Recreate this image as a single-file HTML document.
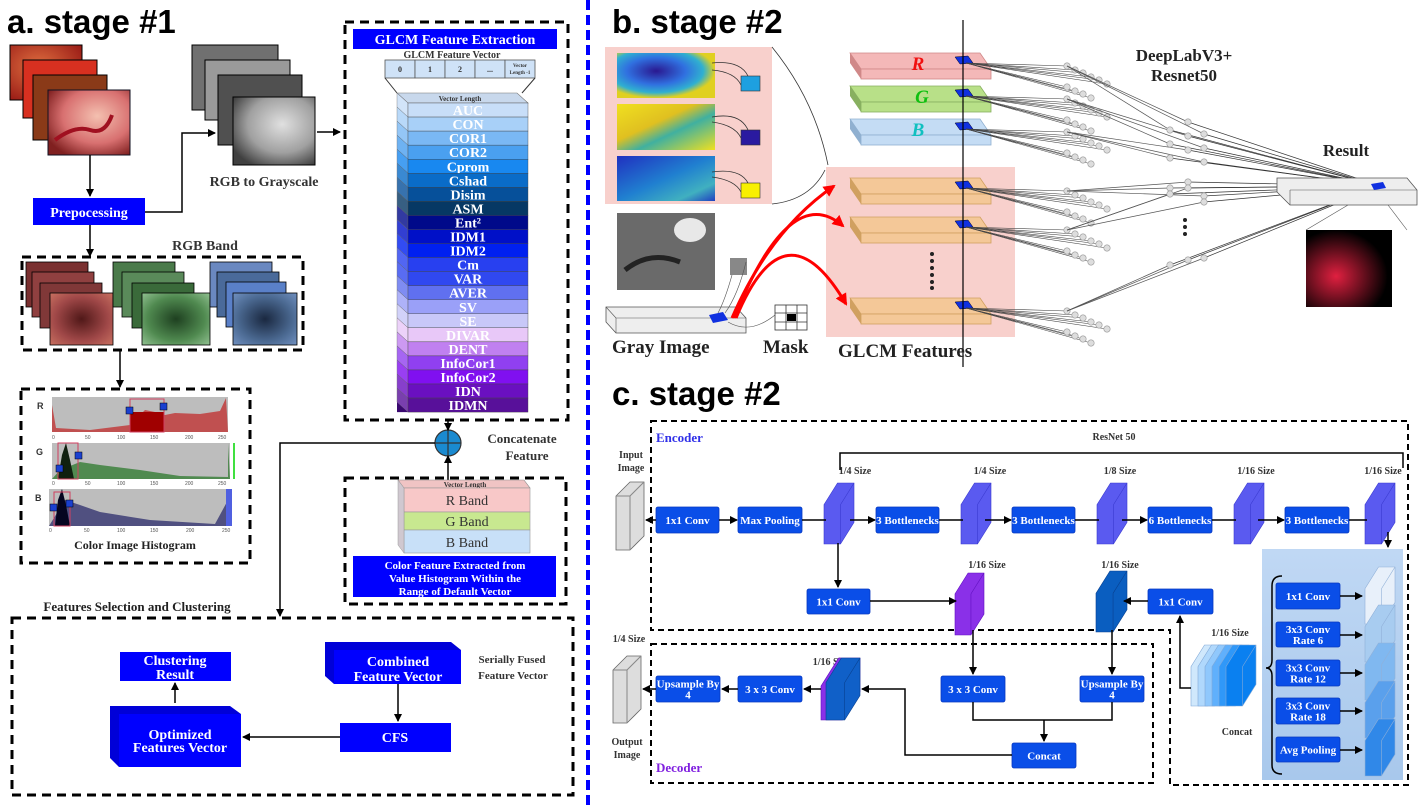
<!DOCTYPE html>
<html><head><meta charset="utf-8">
<style>
html,body{margin:0;padding:0;background:#fff;}
svg{display:block;}
.s{font-family:"Liberation Serif",serif;font-weight:bold;}
.t{font-family:"Liberation Sans",sans-serif;font-weight:bold;}
</style></head>
<body>
<svg id="sv" width="1421" height="806" viewBox="0 0 1421 806" xmlns="http://www.w3.org/2000/svg">
<defs>
<marker id="ar" markerWidth="8" markerHeight="8" refX="7" refY="4" orient="auto" markerUnits="userSpaceOnUse"><path d="M0,0 L8,4 L0,8 Z" fill="#000"/></marker>
<marker id="arr" markerWidth="12" markerHeight="12" refX="10" refY="6" orient="auto" markerUnits="userSpaceOnUse"><path d="M0,0 L12,6 L0,12 Z" fill="#f00"/></marker>
<radialGradient id="endo" cx="0.6" cy="0.4" r="0.7"><stop offset="0" stop-color="#f4c0b0"/><stop offset="0.6" stop-color="#d87070"/><stop offset="1" stop-color="#802020"/></radialGradient>
<radialGradient id="endo2" cx="0.4" cy="0.4" r="0.8"><stop offset="0" stop-color="#e07040"/><stop offset="1" stop-color="#901010"/></radialGradient>
<radialGradient id="gray" cx="0.6" cy="0.4" r="0.7"><stop offset="0" stop-color="#e0e0e0"/><stop offset="0.6" stop-color="#a0a0a0"/><stop offset="1" stop-color="#404040"/></radialGradient>
<radialGradient id="redb" cx="0.5" cy="0.5" r="0.7"><stop offset="0" stop-color="#501818"/><stop offset="0.6" stop-color="#a04848"/><stop offset="1" stop-color="#c87060"/></radialGradient>
<radialGradient id="greenb" cx="0.5" cy="0.5" r="0.7"><stop offset="0" stop-color="#1e4020"/><stop offset="0.6" stop-color="#508a50"/><stop offset="1" stop-color="#90c090"/></radialGradient>
<radialGradient id="blueb" cx="0.5" cy="0.5" r="0.7"><stop offset="0" stop-color="#1a2840"/><stop offset="0.6" stop-color="#4a6890"/><stop offset="1" stop-color="#7090c0"/></radialGradient>
<radialGradient id="cm1" cx="0.4" cy="0.4" r="0.6"><stop offset="0" stop-color="#2a1890"/><stop offset="0.5" stop-color="#3070e0"/><stop offset="0.8" stop-color="#30b0d0"/><stop offset="1" stop-color="#e0d020"/></radialGradient>
<linearGradient id="cm2" x1="0" y1="0" x2="1" y2="1"><stop offset="0" stop-color="#f0e020"/><stop offset="0.4" stop-color="#e0c020"/><stop offset="0.6" stop-color="#40b0a0"/><stop offset="1" stop-color="#f0e020"/></linearGradient>
<linearGradient id="cm3" x1="0" y1="0" x2="1" y2="1"><stop offset="0" stop-color="#2030c0"/><stop offset="0.5" stop-color="#2080d0"/><stop offset="0.8" stop-color="#40b0c0"/><stop offset="1" stop-color="#2040c0"/></linearGradient>
<radialGradient id="res" cx="0.35" cy="0.6" r="0.6"><stop offset="0" stop-color="#e02040"/><stop offset="0.5" stop-color="#701020"/><stop offset="1" stop-color="#000"/></radialGradient>
<linearGradient id="bluepanel" x1="0" y1="0" x2="0" y2="1"><stop offset="0" stop-color="#c0d8f4"/><stop offset="1" stop-color="#a8c8ec"/></linearGradient>
</defs>

<!-- ============ STAGE A ============ -->
<text x="7" y="33" class="t" font-size="33">a. stage #1</text>

<rect x="10" y="45" width="72" height="55" fill="url(#endo2)" stroke="#000" stroke-width="1"/>
<rect x="23" y="60" width="74" height="58" fill="#d83020" stroke="#000" stroke-width="1"/>
<rect x="33" y="75" width="74" height="65" fill="#8a3a18" stroke="#000" stroke-width="1"/>
<rect x="48" y="90" width="82" height="65" fill="url(#endo)" stroke="#112" stroke-width="1"/>
<path d="M55,140 Q75,125 90,130 T112,115" stroke="#a01020" stroke-width="4" fill="none"/>
<line x1="90" y1="155" x2="90" y2="196" stroke="#000" stroke-width="1.5" marker-end="url(#ar)"/>
<rect x="33" y="198" width="112" height="27" fill="#0000ff"/>
<text x="89" y="217" class="s" font-size="14" fill="#fff" text-anchor="middle">Prepocessing</text>
<polyline points="145,212 182,212 182,133 215,133" fill="none" stroke="#000" stroke-width="1.5" marker-end="url(#ar)"/>
<rect x="192" y="45" width="86" height="65" fill="#707070" stroke="#000"/>
<rect x="205" y="60" width="85" height="60" fill="#9a9a9a" stroke="#000"/>
<rect x="218" y="75" width="84" height="70" fill="#505050" stroke="#000"/>
<rect x="233" y="97" width="82" height="68" fill="url(#gray)" stroke="#000"/>
<line x1="317" y1="132" x2="340" y2="132" stroke="#000" stroke-width="1.5" marker-end="url(#ar)"/>
<text x="264" y="186" class="s" font-size="14" fill="#333" text-anchor="middle">RGB to Grayscale</text>

<line x1="90" y1="225" x2="90" y2="256" stroke="#000" stroke-width="1.5" marker-end="url(#ar)"/>
<text x="205" y="250" class="s" font-size="14" fill="#333" text-anchor="middle">RGB Band</text>
<rect x="22" y="257" width="281" height="93" fill="none" stroke="#000" stroke-width="3" stroke-dasharray="9,6"/>
<g stroke="#000" stroke-width="0.8">
<rect x="26" y="262" width="62" height="45" fill="#7a3030"/><rect x="32" y="272" width="62" height="45" fill="#904040"/><rect x="40" y="283" width="62" height="45" fill="#803838"/><rect x="50" y="293" width="63" height="52" fill="url(#redb)"/>
<rect x="113" y="262" width="62" height="45" fill="#4a7a4a"/><rect x="122" y="272" width="62" height="45" fill="#5a8a5a"/><rect x="132" y="283" width="62" height="45" fill="#3a6a3a"/><rect x="142" y="293" width="68" height="52" fill="url(#greenb)"/>
<rect x="210" y="262" width="62" height="45" fill="#6a88c0"/><rect x="217" y="272" width="62" height="45" fill="#4a6a9a"/><rect x="226" y="282" width="60" height="45" fill="#5a80c8"/><rect x="233" y="293" width="64" height="52" fill="url(#blueb)"/>
</g>
<line x1="120" y1="350" x2="120" y2="387" stroke="#000" stroke-width="1.5" marker-end="url(#ar)"/>

<rect x="21" y="389" width="229" height="174" fill="none" stroke="#000" stroke-width="3" stroke-dasharray="9,6"/>
<g font-family="Liberation Sans,sans-serif" font-size="9" font-weight="bold" fill="#333">
<text x="37" y="409">R</text><text x="36" y="455">G</text><text x="35" y="501">B</text></g>
<rect x="52" y="397" width="176" height="35" fill="#bdbdbd"/>
<path d="M52,432 L52,405 L56,428 L90,430 L130,425 L135,420 L145,410 L155,412 L165,415 L175,413 L200,414 L220,411 L226,398 L228,432 Z" fill="#c05050"/>
<rect x="130" y="412" width="34" height="20" fill="#a00000"/>
<rect x="130" y="399" width="34" height="33" fill="none" stroke="#d04060" stroke-width="1"/>
<rect x="126" y="407" width="7" height="7" fill="#1a40d0" stroke="#000" stroke-width="0.5"/><rect x="160" y="403" width="7" height="7" fill="#1a40d0" stroke="#000" stroke-width="0.5"/>
<rect x="52" y="443" width="178" height="36" fill="#bdbdbd"/>
<path d="M52,479 L60,470 L80,462 L100,465 L140,470 L180,476 L228,477 L228,443 L230,479 Z" fill="#508a50"/>
<rect x="233" y="443" width="2" height="36" fill="#40e040"/>
<path d="M58,479 L62,455 L66,443 L70,460 L74,479 Z" fill="#102010"/>
<rect x="58" y="443" width="20" height="36" fill="none" stroke="#d04060"/>
<rect x="56" y="465" width="7" height="7" fill="#1a40d0" stroke="#000" stroke-width="0.5"/><rect x="75" y="452" width="7" height="7" fill="#1a40d0" stroke="#000" stroke-width="0.5"/>
<rect x="49" y="489" width="183" height="37" fill="#bdbdbd"/>
<path d="M49,526 L65,500 L80,505 L100,512 L150,520 L215,524 L228,500 L232,489 L232,526 Z" fill="#505080"/>
<path d="M55,526 L58,500 L62,489 L66,505 L70,526 Z" fill="#050520"/>
<rect x="226" y="489" width="6" height="37" fill="#5060e0"/>
<rect x="54" y="492" width="16" height="34" fill="none" stroke="#d04060"/>
<rect x="50" y="504" width="7" height="7" fill="#1a40d0" stroke="#000" stroke-width="0.5"/><rect x="66" y="500" width="7" height="7" fill="#1a40d0" stroke="#000" stroke-width="0.5"/>
<g font-family="Liberation Sans,sans-serif" font-size="5" fill="#555">
<text x="52" y="439">0</text><text x="85" y="439">50</text><text x="117" y="439">100</text><text x="150" y="439">150</text><text x="185" y="439">200</text><text x="218" y="439">250</text>
<text x="52" y="485">0</text><text x="85" y="485">50</text><text x="117" y="485">100</text><text x="150" y="485">150</text><text x="185" y="485">200</text><text x="218" y="485">250</text>
<text x="49" y="532">0</text><text x="84" y="532">50</text><text x="117" y="532">100</text><text x="150" y="532">150</text><text x="186" y="532">200</text><text x="222" y="532">250</text></g>
<text x="135" y="549" class="s" font-size="12" fill="#222" text-anchor="middle">Color Image Histogram</text>

<rect x="345" y="22" width="223" height="398" fill="none" stroke="#000" stroke-width="3" stroke-dasharray="9,6"/>
<rect x="353" y="29" width="204" height="20" fill="#0000ff"/>
<text x="455" y="44" class="s" font-size="14" fill="#fff" text-anchor="middle">GLCM Feature Extraction</text>
<text x="452" y="58" class="s" font-size="10" fill="#333" text-anchor="middle">GLCM Feature Vector</text>
<g stroke="#555" stroke-width="0.8" fill="#cfe2f7">
<rect x="385" y="60" width="30" height="18"/><rect x="415" y="60" width="30" height="18"/><rect x="445" y="60" width="30" height="18"/><rect x="475" y="60" width="30" height="18"/><rect x="505" y="60" width="30" height="18"/></g>
<g font-family="Liberation Serif,serif" font-size="8" font-weight="bold" fill="#333" text-anchor="middle">
<text x="400" y="72">0</text><text x="430" y="72">1</text><text x="460" y="72">2</text><text x="490" y="72">...</text><text x="520" y="67" font-size="5">Vector</text><text x="520" y="74" font-size="5">Length -1</text></g>
<polyline points="385,78 397,93" stroke="#333" fill="none"/><polyline points="535,78 522,93" stroke="#333" fill="none"/>
<polygon points="397,93 517,93 528,103 408,103" fill="#c8d8ec" stroke="#777" stroke-width="0.6"/>
<text x="460" y="101" class="s" font-size="7" fill="#333" text-anchor="middle">Vector Length</text>
<g id="glcm"></g>

<circle cx="448" cy="443" r="13" fill="#1a8ad0" stroke="#333" stroke-width="1.2"/>
<line x1="435" y1="443" x2="461" y2="443" stroke="#333" stroke-width="1.2"/><line x1="448" y1="430" x2="448" y2="456" stroke="#333" stroke-width="1.2"/>
<line x1="448" y1="420" x2="448" y2="430" stroke="#000" stroke-width="1.5" marker-end="url(#ar)"/>
<line x1="448" y1="480" x2="448" y2="456" stroke="#000" stroke-width="1.5" marker-end="url(#ar)"/>
<text x="522" y="443" class="s" font-size="13" fill="#333" text-anchor="middle">Concatenate</text>
<text x="527" y="460" class="s" font-size="13" fill="#333" text-anchor="middle">Feature</text>
<polyline points="435,443 280,443 280,616" fill="none" stroke="#000" stroke-width="1.5" marker-end="url(#ar)"/>

<rect x="345" y="478" width="221" height="126" fill="none" stroke="#000" stroke-width="3" stroke-dasharray="9,6"/>
<polygon points="398,480 524,480 530,488 404,488" fill="#f0c4c4" stroke="#888" stroke-width="0.6"/>
<text x="465" y="487" class="s" font-size="7" fill="#333" text-anchor="middle">Vector Length</text>
<rect x="404" y="488" width="126" height="24" fill="#f8c8c8" stroke="#999" stroke-width="0.6"/>
<rect x="404" y="512" width="126" height="18" fill="#c8e890" stroke="#999" stroke-width="0.6"/>
<rect x="404" y="530" width="126" height="23" fill="#c8e0f8" stroke="#999" stroke-width="0.6"/>
<polygon points="398,480 404,488 404,553 398,545" fill="#d0c8d0" stroke="#999" stroke-width="0.5"/>
<g font-family="Liberation Serif,serif" font-size="14" fill="#333" text-anchor="middle"><text x="467" y="505">R Band</text><text x="467" y="526">G Band</text><text x="467" y="547">B Band</text></g>
<rect x="353" y="556" width="203" height="41" fill="#0000ff"/>
<g class="s" font-size="11" fill="#fff" text-anchor="middle"><text x="455" y="569">Color Feature Extracted from</text><text x="455" y="582">Value  Histogram Within the</text><text x="455" y="595">Range of Default Vector</text></g>

<text x="137" y="611" class="s" font-size="13" fill="#222" text-anchor="middle">Features Selection and Clustering</text>
<rect x="12" y="618" width="561" height="177" fill="none" stroke="#000" stroke-width="3" stroke-dasharray="9,6"/>
<rect x="120" y="652" width="111" height="29" fill="#0000ff"/>
<g class="s" font-size="14" fill="#fff" text-anchor="middle"><text x="175" y="665">Clustering</text><text x="175" y="679">Result</text></g>
<line x1="175" y1="703" x2="175" y2="683" stroke="#000" stroke-width="1.5" marker-end="url(#ar)"/>
<polygon points="110,706 230,706 241,714 241,767 119,767 110,758" fill="#0000d8"/>
<rect x="119" y="714" width="122" height="53" fill="#0000ff"/>
<g class="s" font-size="14" fill="#fff" text-anchor="middle"><text x="180" y="739">Optimized</text><text x="180" y="752">Features Vector</text></g>
<polygon points="325,642 451,642 461,650 461,684 334,684 325,676" fill="#0000d8"/>
<rect x="334" y="650" width="127" height="34" fill="#0000ff"/>
<g class="s" font-size="14" fill="#fff" text-anchor="middle"><text x="398" y="666">Combined</text><text x="398" y="681">Feature Vector</text></g>
<g class="s" font-size="11" fill="#333" text-anchor="middle"><text x="512" y="663">Serially Fused</text><text x="513" y="679">Feature Vector</text></g>
<line x1="398" y1="684" x2="398" y2="721" stroke="#000" stroke-width="1.5" marker-end="url(#ar)"/>
<rect x="340" y="723" width="111" height="29" fill="#0000ff"/>
<text x="395" y="742" class="s" font-size="14" fill="#fff" text-anchor="middle">CFS</text>
<line x1="340" y1="737" x2="243" y2="737" stroke="#000" stroke-width="1.5" marker-end="url(#ar)"/>

<line x1="588" y1="0" x2="588" y2="806" stroke="#0000ff" stroke-width="4" stroke-dasharray="10,5"/>

<!-- ============ STAGE B ============ -->
<text x="612" y="33" class="t" font-size="33">b. stage #2</text>
<rect x="605" y="47" width="167" height="157" fill="#f8d0cc"/>
<rect x="617" y="53" width="98" height="45" fill="url(#cm1)"/>
<rect x="617" y="104" width="98" height="46" fill="url(#cm2)"/>
<rect x="617" y="156" width="98" height="45" fill="url(#cm3)"/>
<g stroke="#333" fill="none" stroke-width="0.8">
<path d="M712,63 Q740,60 748,76"/><path d="M712,70 Q735,72 741,85"/>
<path d="M712,117 Q740,112 748,130"/><path d="M712,122 Q735,125 741,138"/>
<path d="M712,172 Q740,168 748,183"/><path d="M712,177 Q735,180 741,192"/>
<path d="M772,47 Q815,100 828,165"/><path d="M772,204 Q810,200 825,170"/></g>
<rect x="741" y="76" width="19" height="15" fill="#1ea0e0" stroke="#333" stroke-width="0.6"/>
<rect x="741" y="130" width="19" height="15" fill="#2a1aa0" stroke="#333" stroke-width="0.6"/>
<rect x="741" y="183" width="19" height="15" fill="#f8f000" stroke="#333" stroke-width="0.6"/>
<rect x="617" y="213" width="98" height="77" fill="#6a6a6a"/>
<ellipse cx="690" cy="230" rx="16" ry="12" fill="#e8e8e8"/><path d="M625,270 Q650,250 680,262" stroke="#222" stroke-width="5" fill="none"/>
<rect x="730" y="258" width="17" height="17" fill="#888"/>
<polygon points="606,307 736,307 746,318 746,333 616,333 606,322" fill="#eee" stroke="#555" stroke-width="0.8"/>
<line x1="606" y1="307" x2="616" y2="318" stroke="#555" stroke-width="0.6"/><line x1="616" y1="318" x2="746" y2="318" stroke="#555" stroke-width="0.6"/><line x1="616" y1="318" x2="616" y2="333" stroke="#555" stroke-width="0.6"/>
<polygon points="709,315 723,312 728,320 713,323" fill="#1030e0"/>
<path d="M732,275 Q725,300 718,313 M746,262 Q738,295 725,313" stroke="#555" fill="none" stroke-width="0.6"/>
<g stroke="#333" stroke-width="0.8" fill="#fff"><rect x="775" y="305" width="32" height="25"/><line x1="786" y1="305" x2="786" y2="330"/><line x1="797" y1="305" x2="797" y2="330"/><line x1="775" y1="313" x2="807" y2="313"/><line x1="775" y1="322" x2="807" y2="322"/></g>
<rect x="787" y="314" width="9" height="7" fill="#000"/>
<path d="M728,322 Q750,335 775,315" stroke="#555" fill="none" stroke-width="0.6"/>
<text x="612" y="353" class="s" font-size="19" fill="#222">Gray Image</text>
<text x="763" y="353" class="s" font-size="19" fill="#222">Mask</text>

<rect x="826" y="167" width="189" height="170" fill="#f8d0cc"/>
<g stroke="#f00" stroke-width="3" fill="none">
<path d="M732,318 Q770,230 834,186" marker-end="url(#arr)"/>
<path d="M734,318 Q790,180 843,226" marker-end="url(#arr)"/>
<path d="M736,318 Q785,200 846,304" marker-end="url(#arr)"/>
</g>
<g id="slabs"></g>
<line x1="963" y1="20" x2="963" y2="367" stroke="#000" stroke-width="1.2"/>
<g fill="#222" ><circle cx="932" cy="254" r="2"/><circle cx="932" cy="261" r="2"/><circle cx="932" cy="268" r="2"/><circle cx="932" cy="275" r="2"/><circle cx="932" cy="282" r="2"/><circle cx="932" cy="288" r="2"/></g>
<text x="838" y="357" class="s" font-size="19" fill="#222">GLCM Features</text>
<g id="net"></g>
<g font-family="Liberation Serif,serif" font-style="italic" font-weight="bold" font-size="19" text-anchor="middle">
<text x="918" y="70" fill="#f01010">R</text><text x="922" y="103" fill="#10c010">G</text><text x="918" y="136" fill="#10c0c0">B</text></g>
<g class="s" font-size="17" fill="#222" text-anchor="middle"><text x="1184" y="61">DeepLabV3+</text><text x="1184" y="81">Resnet50</text><text x="1346" y="156">Result</text></g>
<g fill="#222"><circle cx="1185" cy="220" r="2"/><circle cx="1185" cy="227" r="2"/><circle cx="1185" cy="234" r="2"/></g>
<polygon points="1277,178 1407,178 1417,190 1417,205 1290,205 1277,192" fill="#eee" stroke="#555" stroke-width="0.8"/>
<line x1="1290" y1="190" x2="1417" y2="190" stroke="#555" stroke-width="0.6"/><line x1="1290" y1="190" x2="1290" y2="205" stroke="#555" stroke-width="0.6"/>
<polygon points="1371,184 1383,182 1386,188 1374,190" fill="#1030e0"/>
<rect x="1306" y="230" width="86" height="77" fill="url(#res)"/>
<line x1="1348" y1="205" x2="1306" y2="230" stroke="#555" stroke-width="0.6"/><line x1="1388" y1="205" x2="1407" y2="230" stroke="#555" stroke-width="0.6"/>

<!-- ============ STAGE C ============ -->
<text x="612" y="405" class="t" font-size="33">c. stage #2</text>
<path d="M651,421 L1408,421 L1408,785 L1170,785 L1170,630 L651,630 Z" fill="none" stroke="#000" stroke-width="2" stroke-dasharray="6,4"/>
<rect x="651" y="644" width="502" height="139" fill="none" stroke="#000" stroke-width="2" stroke-dasharray="6,4"/>
<rect x="1262" y="549" width="141" height="231" fill="url(#bluepanel)"/>
<text x="656" y="442" font-family="Liberation Serif,serif" font-size="13" font-weight="bold" fill="#3030e8">Encoder</text>
<text x="656" y="772" font-family="Liberation Serif,serif" font-size="13" font-weight="bold" fill="#8020e0">Decoder</text>
<g font-family="Liberation Serif,serif" font-size="10" font-weight="bold" fill="#333" text-anchor="middle">
<text x="1114" y="440">ResNet 50</text>
<text x="631" y="458">Input</text><text x="631" y="471">Image</text>
<text x="855" y="474">1/4 Size</text><text x="990" y="474">1/4 Size</text><text x="1120" y="474">1/8 Size</text><text x="1256" y="474">1/16 Size</text><text x="1383" y="474">1/16 Size</text>
<text x="987" y="568">1/16 Size</text><text x="1120" y="568">1/16 Size</text>
<text x="1230" y="636">1/16 Size</text><text x="1237" y="735">Concat</text>
<text x="629" y="642">1/4 Size</text><text x="827" y="665">1/16 Si</text>
<text x="627" y="745">Output</text><text x="627" y="758">Image</text></g>
<polyline points="840,470 840,453 1403,453 1403,468" fill="none" stroke="#000" stroke-width="1.5"/>

<polygon points="616,496 630,482 644,482 644,536 630,550 616,550" fill="#ddd" stroke="#666" stroke-width="0.8"/><line x1="630" y1="496" x2="630" y2="550" stroke="#888"/><line x1="616" y1="496" x2="630" y2="496" stroke="#888"/><line x1="630" y1="496" x2="644" y2="482" stroke="#888"/>
<polygon points="613,670 627,656 641,656 641,709 627,723 613,723" fill="#ddd" stroke="#666" stroke-width="0.8"/><line x1="627" y1="670" x2="627" y2="723" stroke="#888"/><line x1="613" y1="670" x2="627" y2="670" stroke="#888"/><line x1="627" y1="670" x2="641" y2="656" stroke="#888"/>

<g id="cboxes"></g>
<g stroke="#000" stroke-width="1.5" fill="none">
<line x1="656" y1="520" x2="646" y2="520" marker-end="url(#ar)"/>
<line x1="719" y1="520" x2="737" y2="520" marker-end="url(#ar)"/>
<line x1="802" y1="520" x2="826" y2="520"/>
<line x1="850" y1="520" x2="875" y2="520" marker-end="url(#ar)"/>
<line x1="939" y1="520" x2="963" y2="520"/><line x1="985" y1="520" x2="1011" y2="520" marker-end="url(#ar)"/>
<line x1="1075" y1="520" x2="1099" y2="520"/><line x1="1122" y1="520" x2="1147" y2="520" marker-end="url(#ar)"/>
<line x1="1212" y1="520" x2="1236" y2="520"/><line x1="1258" y1="520" x2="1284" y2="520" marker-end="url(#ar)"/>
<line x1="1349" y1="520" x2="1367" y2="520"/>
<line x1="1388" y1="532" x2="1388" y2="547" marker-end="url(#ar)"/>
<line x1="838" y1="543" x2="838" y2="587" marker-end="url(#ar)"/>
<line x1="870" y1="601" x2="956" y2="601" marker-end="url(#ar)"/>
<line x1="1148" y1="601" x2="1124" y2="601" marker-end="url(#ar)"/>
<polyline points="1191,688 1180,688 1180,616" marker-end="url(#ar)"/>
<line x1="973" y1="630" x2="973" y2="674" marker-end="url(#ar)"/>
<line x1="1112" y1="630" x2="1112" y2="674" marker-end="url(#ar)"/>
<polyline points="973,702 973,720 1112,720 1112,702"/>
<line x1="1044" y1="720" x2="1044" y2="741" marker-end="url(#ar)"/>
<polyline points="1012,755 905,755 905,689 862,689" marker-end="url(#ar)"/>
<line x1="821" y1="689" x2="804" y2="689" marker-end="url(#ar)"/>
<line x1="738" y1="689" x2="722" y2="689" marker-end="url(#ar)"/>
<line x1="656" y1="689" x2="643" y2="689" marker-end="url(#ar)"/>
<path d="M1282,576 Q1272,576 1272,586 L1272,660 Q1272,668 1266,668 Q1272,668 1272,676 L1272,765 Q1272,774 1282,774"/>
<line x1="1340" y1="596" x2="1362" y2="596" marker-end="url(#ar)"/>
<line x1="1340" y1="635" x2="1362" y2="635" marker-end="url(#ar)"/>
<line x1="1340" y1="673" x2="1362" y2="673" marker-end="url(#ar)"/>
<line x1="1340" y1="711" x2="1362" y2="711" marker-end="url(#ar)"/>
<line x1="1340" y1="750" x2="1362" y2="750" marker-end="url(#ar)"/>
</g>
</svg>
<script>
var NS="http://www.w3.org/2000/svg";
function el(p,t,a,txt){var e=document.createElementNS(NS,t);for(var k in a)e.setAttribute(k,a[k]);if(txt!==undefined)e.textContent=txt;p.appendChild(e);return e;}
var g=document.getElementById("glcm");
var rows=[["AUC","#c8def8"],["CON","#a8d0f8"],["COR1","#7ab8f4"],["COR2","#4aa0f0"],["Cprom","#1888f0"],["Cshad","#0a6cc8"],["Disim","#06509a"],["ASM","#063864"],["Ent²","#000a8a"],["IDM1","#0010c8"],["IDM2","#0020f0"],["Cm","#2840f0"],["VAR","#3048f0"],["AVER","#6070f0"],["SV","#9aa0f8"],["SE","#c8c8f8"],["DIVAR","#e8c8f8"],["DENT","#c080f0"],["InfoCor1","#9040f0"],["InfoCor2","#8010f0"],["IDN","#6a10c0"],["IDMN","#58109a"]];
var y0=103,h=14.05;
rows.forEach(function(r,i){var y=y0+i*h;
el(g,"polygon",{points:"397,"+(y-10)+" 408,"+y+" 408,"+(y+h)+" 397,"+(y+h-10),fill:r[1],stroke:"#555","stroke-width":"0.4",opacity:"0.8"});
el(g,"rect",{x:408,y:y,width:120,height:h,fill:r[1],stroke:"#444","stroke-width":"0.4"});
el(g,"text",{x:468,y:y+h-2,"text-anchor":"middle","font-family":"Liberation Serif,serif","font-weight":"bold","font-size":"14",fill:"#fff"},r[0]);});
el(g,"polygon",{points:"397,"+(y0+22*h-10)+" 408,"+(y0+22*h)+" 397,"+(y0+22*h)+"",fill:"#3a0870"});
var s=document.getElementById("slabs");
function slab(y,top,side){el(s,"polygon",{points:"850,"+y+" 980,"+y+" 991,"+(y+16)+" 861,"+(y+16),fill:top,stroke:side,"stroke-width":"0.8"});
el(s,"polygon",{points:"850,"+y+" 861,"+(y+16)+" 861,"+(y+26)+" 850,"+(y+10),fill:side});
el(s,"rect",{x:861,y:y+16,width:130,height:10,fill:top,stroke:side,"stroke-width":"0.8"});
el(s,"polygon",{points:"955,"+(y+4)+" 968,"+(y+3)+" 973,"+(y+10)+" 960,"+(y+11),fill:"#1030e0",stroke:"#002","stroke-width":"0.5"});}
slab(53,"#f4b8b8","#d08888");slab(86,"#b8e088","#88b060");slab(119,"#c4dcf4","#90b0d0");
slab(178,"#f4c898","#d0a060");slab(217,"#f4c898","#d0a060");slab(298,"#f4c898","#d0a060");
var n=document.getElementById("net");
var srcs=[60,93,126,185,224,305];
var R=[1380,186];
var l2=[];
srcs.forEach(function(sy,si){
 var nodes=[];
 for(var i=0;i<5;i++){nodes.push([1067+(i%3)*16, sy+6+i*7]);nodes.push([1075+(i%3)*16, sy+10+i*7]);}
 nodes.forEach(function(p){el(n,"line",{x1:966,y1:sy+3,x2:p[0],y2:p[1],stroke:"#444","stroke-width":"0.6"});});
 nodes.forEach(function(p){el(n,"circle",{cx:p[0],cy:p[1],r:3.2,fill:"#ddd",stroke:"#999","stroke-width":"0.6"});});
 var k=[[1170,sy<140?130+si*14:(sy<250?170+si*6:265)],[1188,sy<140?122+si*14:(sy<250?164+si*6:260)],[1204,sy<140?134+si*14:(sy<250?178+si*6:258)]];
 k.forEach(function(q){el(n,"line",{x1:nodes[0][0],y1:nodes[0][1],x2:q[0],y2:q[1],stroke:"#555","stroke-width":"0.7"});
 el(n,"line",{x1:q[0],y1:q[1],x2:R[0],y2:R[1],stroke:"#333","stroke-width":"0.7"});l2.push(q);});
});
l2.forEach(function(q){el(n,"circle",{cx:q[0],cy:q[1],r:3.2,fill:"#ddd",stroke:"#999","stroke-width":"0.6"});});
var c=document.getElementById("cboxes");
function box(x,y,w,hh,lines){el(c,"rect",{x:x,y:y,width:w,height:hh,rx:2,fill:"#0a4ee8",stroke:"#0838c0","stroke-width":"0.8"});
 var cy=y+hh/2+4-(lines.length-1)*5.5;lines.forEach(function(t,i){el(c,"text",{x:x+w/2,y:cy+i*11,"text-anchor":"middle","font-family":"Liberation Serif,serif","font-weight":"bold","font-size":"11",fill:"#fff"},t);});}
function par(x,y,w,hh,fill,side){var d=w*0.45;
 el(c,"polygon",{points:x+","+(y+d*1.6)+" "+(x+d)+","+y+" "+(x+w)+","+y+" "+(x+w)+","+(y+hh-d*1.6)+" "+(x+w-d)+","+(y+hh)+" "+x+","+(y+hh),fill:fill,stroke:side,"stroke-width":"0.6"});
 el(c,"line",{x1:x+w-d,y1:y+d*1.6,x2:x+w-d,y2:y+hh,stroke:side,"stroke-width":"0.6"});
 el(c,"line",{x1:x+w-d,y1:y+d*1.6,x2:x+w,y2:y,stroke:side,"stroke-width":"0.6"});}
box(656,507,63,26,["1x1 Conv"]);box(738,507,64,26,["Max Pooling"]);
box(876,507,63,26,["3 Bottlenecks"]);box(1012,507,63,26,["3 Bottlenecks"]);box(1148,507,64,26,["6 Bottlenecks"]);box(1285,507,64,26,["3 Bottlenecks"]);
[824,961,1097,1234,1365].forEach(function(x){par(x,483,30,61,"#5a5af0","#3a3ad0");});
box(807,589,63,25,["1x1 Conv"]);par(955,573,29,62,"#8a30e8","#6010c0");
par(1096,571,31,61,"#0a5ec0","#084090");box(1148,589,65,25,["1x1 Conv"]);
box(941,676,64,26,["3 x 3 Conv"]);box(1080,676,64,26,["Upsample By","4"]);box(1012,743,64,25,["Concat"]);
box(738,676,64,26,["3 x 3 Conv"]);box(656,676,64,26,["Upsample By","4"]);
par(821,658,39,62,"#8a30e8","#6010c0");par(826,658,34,62,"#1060c8","#084090");
var cc=["#d0e8fc","#b0d8fc","#90c8fc","#60b0fc","#3098f8","#0a80f0"];
cc.forEach(function(col,i){par(1191+i*7,645,30,61,col,"#80a8d8");});
box(1276,583,64,26,["1x1 Conv"]);box(1276,622,64,25,["3x3 Conv","Rate 6"]);box(1276,660,64,26,["3x3 Conv","Rate 12"]);box(1276,698,64,26,["3x3 Conv","Rate 18"]);box(1276,737,64,25,["Avg Pooling"]);
var aspp=["#e8f0fa","#a8ccf0","#80b8f0","#5aa0ec","#3088e8"];
aspp.forEach(function(col,i){par(1365,567+i*38,30,57,col,"#90b0d8");});
</script>
</body></html>
